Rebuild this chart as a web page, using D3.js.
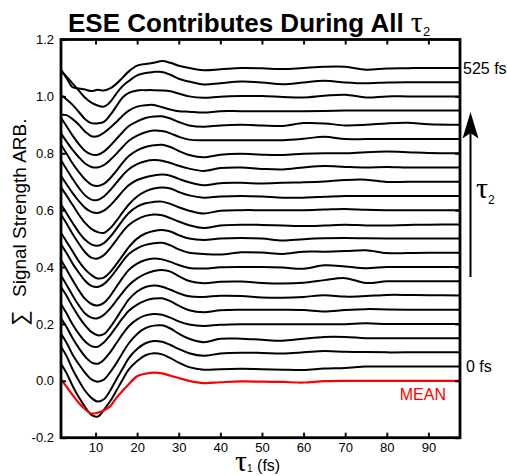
<!DOCTYPE html>
<html><head><meta charset="utf-8">
<script src="https://cdn.jsdelivr.net/npm/d3@7"></script>
<style>
body{margin:0;background:#fff;}
svg{display:block;font-family:"Liberation Sans",Arial,sans-serif;}
</style>
</head><body>
<svg id="chart" width="507" height="476"></svg>
<script>
// ---------- data ----------
const tau1 = [1.7,3,4.5,6,7.5,9,10.5,12,13.5,15,16.5,18,20,22,24,26,28,30,32.5,36,40,45,50,55,60,65,70,75,80,85,90,97.6];
const tau2 = [0,25,50,75,100,125,150,175,200,225,250,275,300,325,350,375,400,425,450,475,500,525];
const offsetStep = 0.05;
const signals = [
 [0.010,-0.022,-0.068,-0.108,-0.142,-0.170,-0.176,-0.152,-0.122,-0.085,-0.046,-0.010,0.020,0.040,0.047,0.043,0.030,0.014,-0.002,-0.011,-0.009,-0.008,-0.009,-0.011,-0.012,-0.007,-0.005,0.000,0.000,0.000,0.000,0.000],
 [0.020,-0.012,-0.060,-0.100,-0.135,-0.160,-0.173,-0.165,-0.135,-0.095,-0.058,-0.020,0.012,0.032,0.040,0.037,0.026,0.012,-0.003,-0.012,-0.004,-0.001,-0.002,-0.004,0.000,0.005,0.002,0.001,0.000,0.000,0.000,0.000],
 [0.015,-0.015,-0.058,-0.092,-0.122,-0.145,-0.153,-0.146,-0.120,-0.088,-0.052,-0.018,0.015,0.035,0.044,0.045,0.034,0.016,-0.002,-0.014,-0.002,-0.002,-0.006,-0.009,-0.002,0.004,0.004,0.000,0.000,0.000,0.000,0.000],
 [0.020,-0.010,-0.050,-0.085,-0.115,-0.135,-0.140,-0.126,-0.100,-0.068,-0.036,-0.008,0.016,0.030,0.035,0.032,0.022,0.009,-0.002,-0.007,-0.003,-0.001,-0.001,-0.001,-0.001,-0.001,-0.001,0.002,0.000,0.000,0.000,0.000],
 [0.020,-0.012,-0.052,-0.085,-0.112,-0.128,-0.130,-0.115,-0.090,-0.060,-0.030,-0.004,0.018,0.032,0.039,0.040,0.030,0.014,-0.002,-0.009,-0.002,0.000,0.000,0.000,-0.001,-0.006,-0.001,0.002,0.001,0.000,0.000,0.000],
 [0.030,0.000,-0.040,-0.075,-0.105,-0.128,-0.140,-0.136,-0.112,-0.080,-0.046,-0.014,0.014,0.030,0.035,0.031,0.020,0.008,-0.003,-0.005,-0.001,-0.002,-0.007,-0.008,-0.005,0.001,-0.004,-0.002,0.002,0.002,0.001,0.000],
 [0.020,-0.012,-0.050,-0.085,-0.113,-0.128,-0.130,-0.118,-0.096,-0.068,-0.040,-0.014,0.010,0.026,0.036,0.040,0.034,0.018,0.001,-0.007,-0.002,-0.001,-0.006,-0.008,-0.005,0.004,0.011,-0.006,0.000,0.000,0.000,0.000],
 [0.025,-0.008,-0.046,-0.082,-0.112,-0.130,-0.135,-0.126,-0.102,-0.070,-0.038,-0.010,0.012,0.025,0.030,0.027,0.018,0.007,-0.003,-0.005,-0.001,0.000,0.000,-0.002,-0.006,0.006,0.002,-0.004,0.000,0.000,0.000,0.000],
 [0.030,0.000,-0.038,-0.070,-0.098,-0.116,-0.120,-0.110,-0.088,-0.060,-0.030,-0.004,0.016,0.028,0.034,0.035,0.026,0.012,0.000,-0.004,-0.006,0.002,0.001,-0.004,0.004,0.004,0.006,0.009,-0.001,-0.001,0.000,0.000],
 [0.020,-0.010,-0.045,-0.080,-0.108,-0.128,-0.140,-0.137,-0.118,-0.090,-0.060,-0.030,0.000,0.018,0.027,0.030,0.025,0.012,0.000,-0.005,0.000,0.002,0.000,-0.007,-0.002,0.001,0.002,0.001,0.000,0.000,0.000,0.000],
 [0.035,0.004,-0.034,-0.068,-0.098,-0.117,-0.120,-0.108,-0.084,-0.055,-0.026,-0.002,0.018,0.030,0.035,0.032,0.022,0.010,-0.003,-0.013,-0.004,-0.001,-0.002,-0.004,-0.006,-0.004,-0.001,-0.004,-0.004,-0.002,-0.001,0.000],
 [0.020,-0.010,-0.045,-0.078,-0.104,-0.120,-0.125,-0.116,-0.094,-0.066,-0.036,-0.010,0.012,0.024,0.029,0.030,0.022,0.010,-0.002,-0.012,-0.002,0.000,0.000,0.000,0.000,0.002,0.004,0.001,0.000,0.000,0.000,0.000],
 [0.030,0.002,-0.032,-0.066,-0.095,-0.116,-0.127,-0.130,-0.114,-0.088,-0.058,-0.030,-0.002,0.016,0.026,0.030,0.026,0.014,0.002,-0.006,-0.002,0.000,-0.002,-0.006,-0.006,-0.003,0.000,0.000,0.000,0.000,0.000,0.000],
 [0.020,-0.008,-0.040,-0.068,-0.092,-0.106,-0.110,-0.102,-0.084,-0.060,-0.034,-0.012,0.006,0.016,0.022,0.025,0.021,0.010,-0.002,-0.012,-0.005,-0.004,-0.006,-0.004,-0.002,0.001,0.006,0.007,-0.001,0.000,0.000,0.000],
 [0.025,-0.005,-0.040,-0.072,-0.098,-0.113,-0.114,-0.102,-0.080,-0.054,-0.028,-0.006,0.012,0.022,0.026,0.024,0.016,0.006,-0.004,-0.012,-0.002,0.000,-0.005,-0.007,0.000,0.005,0.002,0.000,0.002,0.000,0.000,0.000],
 [0.030,0.000,-0.036,-0.066,-0.092,-0.110,-0.115,-0.108,-0.088,-0.062,-0.034,-0.010,0.010,0.022,0.028,0.030,0.022,0.008,-0.006,-0.014,-0.005,-0.002,-0.005,-0.006,-0.002,0.000,0.000,0.004,0.006,0.004,0.001,0.000],
 [0.020,-0.008,-0.038,-0.064,-0.086,-0.098,-0.100,-0.092,-0.074,-0.052,-0.028,-0.006,0.012,0.024,0.030,0.028,0.020,0.008,-0.002,-0.004,-0.004,-0.004,-0.004,-0.004,0.001,0.008,0.000,0.000,0.000,0.000,0.000,0.000],
 [0.025,-0.004,-0.038,-0.068,-0.092,-0.104,-0.105,-0.094,-0.074,-0.050,-0.026,-0.004,0.012,0.024,0.029,0.030,0.022,0.010,-0.002,-0.007,-0.002,0.000,-0.002,-0.004,0.006,0.005,-0.002,0.000,0.005,0.007,0.002,0.000],
 [-0.015,-0.016,-0.030,-0.050,-0.074,-0.090,-0.090,-0.078,-0.060,-0.040,-0.018,0.000,0.014,0.019,0.020,0.012,0.004,-0.002,-0.004,-0.007,-0.002,-0.002,-0.002,-0.002,-0.002,-0.001,0.000,0.000,0.000,0.000,0.000,0.000],
 [0.005,-0.010,-0.030,-0.055,-0.080,-0.094,-0.095,-0.090,-0.066,-0.035,-0.004,0.012,0.021,0.022,0.022,0.021,0.018,0.010,0.000,-0.005,-0.001,0.001,0.001,-0.002,-0.004,0.002,0.006,-0.004,0.000,0.000,0.000,0.000],
 [0.040,0.020,-0.005,-0.030,-0.055,-0.072,-0.082,-0.086,-0.070,-0.040,-0.014,0.004,0.024,0.032,0.036,0.036,0.026,0.012,0.002,-0.008,-0.004,0.002,-0.001,-0.007,-0.001,0.005,-0.001,-0.004,-0.001,0.000,0.000,0.000],
 [-0.007,-0.035,-0.068,-0.072,-0.076,-0.081,-0.077,-0.079,-0.072,-0.056,-0.034,-0.012,0.008,0.014,0.018,0.024,0.018,0.008,0.000,-0.008,-0.005,0.000,-0.001,-0.004,0.000,0.004,0.004,-0.006,-0.002,-0.001,0.000,0.000]
];
const meanSignal = [0.005,-0.020,-0.050,-0.078,-0.100,-0.115,-0.112,-0.104,-0.090,-0.060,-0.035,-0.012,0.016,0.025,0.029,0.026,0.018,0.010,0.000,-0.008,-0.005,-0.002,-0.003,-0.004,-0.006,-0.001,0.000,0.000,0.000,0.000,0.000,0.000];
const xTicks = [10,20,30,40,50,60,70,80,90];
const yTicks = [-0.2,0.0,0.2,0.4,0.6,0.8,1.0,1.2];
const yTickLabels = ["-0.2","0.0","0.2","0.4","0.6","0.8","1.0","1.2"];
const xDomain = [1.7, 97.6];
const yDomain = [-0.2, 1.2];

// ---------- layout ----------
const svg = d3.select("#chart");
const L = 61, R = 460, T = 39.5, B = 437.7;
const x = d3.scaleLinear().domain(xDomain).range([L, R]);
const y = d3.scaleLinear().domain(yDomain).range([B, T]);

svg.append("defs").append("clipPath").attr("id","clip")
  .append("rect").attr("x",L).attr("y",T).attr("width",R-L).attr("height",B-T);

const line = d3.line()
  .x((d,i)=>x(tau1[i]))
  .curve(d3.curveCatmullRom.alpha(0.5));

const plotG = svg.append("g").attr("clip-path","url(#clip)");
signals.forEach((s,k)=>{
  const off = offsetStep*(k+1);
  plotG.append("path").datum(s)
    .attr("d", line.y(d=>y(d+off)))
    .attr("fill","none").attr("stroke","#000").attr("stroke-width",2)
    .attr("stroke-linejoin","round");
});
plotG.append("path").datum(meanSignal)
  .attr("d", line.y(d=>y(d)))
  .attr("fill","none").attr("stroke","#ff0000").attr("stroke-width",2.2)
  .attr("stroke-linejoin","round");

// axes
const axBottom = svg.append("g").attr("transform",`translate(0,${B})`)
  .call(d3.axisBottom(x).tickValues(xTicks).tickSize(-5).tickPadding(5).tickFormat(d3.format("d")));
const axTop = svg.append("g").attr("transform",`translate(0,${T})`)
  .call(d3.axisTop(x).tickValues(xTicks).tickSize(-5).tickFormat(""));
const axLeft = svg.append("g").attr("transform",`translate(${L},0)`)
  .call(d3.axisLeft(y).tickValues(yTicks).tickSize(-5).tickPadding(7).tickFormat((d,i)=>yTickLabels[i]));
const axRight = svg.append("g").attr("transform",`translate(${R},0)`)
  .call(d3.axisRight(y).tickValues(yTicks).tickSize(-5).tickFormat(""));
[axBottom,axTop,axLeft,axRight].forEach(a=>{
  a.select(".domain").remove();
  a.selectAll(".tick line").attr("stroke","#000").attr("stroke-width",2);
  a.selectAll(".tick text").attr("fill","#000").style("font-size","13px")
    .style("font-family","'Liberation Sans',Arial,sans-serif");
});
svg.append("rect").attr("x",L).attr("y",T).attr("width",R-L).attr("height",B-T)
  .attr("fill","none").attr("stroke","#000").attr("stroke-width",2.8);

// title
const title = svg.append("text").attr("x",68).attr("y",32).attr("fill","#000");
title.append("tspan").text("ESE Contributes During All ").style("font-size","26px").style("font-weight","bold");
title.append("tspan").text("τ").style("font-size","30px").style("font-family","'Liberation Serif',serif");
title.append("tspan").text("2").style("font-size","13px").attr("dy",4);

// y label
svg.append("text").attr("transform","translate(27,318) rotate(-90)")
  .attr("text-anchor","middle").style("font-size","22px").text("∑");
svg.append("text").attr("transform","translate(26,297) rotate(-90)")
  .attr("text-anchor","start").style("font-size","19px").text("Signal Strength ARB.");

// x label
const xl = svg.append("text").attr("x",235).attr("y",471).attr("fill","#000");
xl.append("tspan").text("τ").style("font-size","30px").style("font-family","'Liberation Serif',serif");
xl.append("tspan").text("1").style("font-size","10px").attr("dy",1);
xl.append("tspan").text(" (fs)").style("font-size","16px").attr("dy",-1);

// right labels
const lastIdx = tau1.length-1;
svg.append("text").attr("x",463).attr("y",y(signals[signals.length-1][lastIdx]+offsetStep*signals.length))
  .attr("dy","0.35em").style("font-size","16px").text(tau2[tau2.length-1]+" fs");
svg.append("text").attr("x",466).attr("y",y(signals[0][lastIdx]+offsetStep))
  .attr("dy","0.35em").style("font-size","16px").text(tau2[0]+" fs");
svg.append("text").attr("x",446).attr("y",399.5).attr("text-anchor","end")
  .attr("fill","#ff0000").style("font-size","16px").text("MEAN");

// arrow
svg.append("line").attr("x1",470.5).attr("x2",470.5).attr("y1",277).attr("y2",130)
  .attr("stroke","#000").attr("stroke-width",2);
svg.append("path").attr("d","M470.5,112 L462.5,138.5 L470.5,133 L478.5,138.5 Z").attr("fill","#000");
const t2 = svg.append("text").attr("x",476).attr("y",198).attr("fill","#000");
t2.append("tspan").text("τ").style("font-size","30px").style("font-family","'Liberation Serif',serif");
t2.append("tspan").text("2").style("font-size","12px").attr("dy",6);
</script>
</body></html>
